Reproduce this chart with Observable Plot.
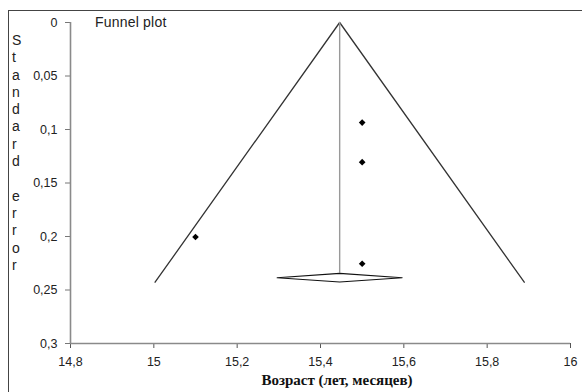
<!DOCTYPE html>
<html><head><meta charset="utf-8">
<script src="https://cdn.jsdelivr.net/npm/d3@7"></script>
<script src="https://cdn.jsdelivr.net/npm/@observablehq/plot@0.6"></script>
<style>
html,body{margin:0;padding:0;background:#fff;}
#wrap{position:relative;width:582px;height:392px;overflow:hidden;font-family:"Liberation Sans",Arial,sans-serif;}
#frame{position:absolute;left:8px;top:10px;right:-5px;bottom:-5px;border-left:1.6px solid #444;border-top:1.6px solid #444;}
#title{position:absolute;left:95px;top:14px;font-size:14px;color:#222;letter-spacing:0.2px;}
#ylab{position:absolute;left:12px;top:32px;font-size:14px;line-height:17.3px;color:#222;text-align:left;}
#xlab{position:absolute;left:0;width:674px;top:372px;text-align:center;font-family:"Liberation Serif","Times New Roman",serif;font-weight:bold;font-size:15px;color:#111;}
</style></head>
<body><div id="wrap"><div id="frame"></div><div id="chart"></div>
<div id="title">Funnel plot</div>
<div id="ylab"></div>
<div id="xlab">Возраст (лет, месяцев)</div>
</div>
<script>
// data
const studyAge = [15.1, 15.5, 15.5, 15.5];
const studySE = [0.2005, 0.0935, 0.1305, 0.2255];
const funnelX = [15.003, 15.446, 15.889];
const funnelSE = [0.2427, 0, 0.2427];
const pooled = 15.446;
const pooledLineSE = [0, 0.2343];
const diamondX = [15.296, 15.446, 15.596, 15.446, 15.296];
const diamondSE = [0.2386, 0.2345, 0.2386, 0.2425, 0.2386];
const xTicks = [14.8, 15, 15.2, 15.4, 15.6, 15.8, 16];
const yTicks = [0, 0.05, 0.1, 0.15, 0.2, 0.25, 0.3];
const yTitle = "Standard error";
const fmt = d => String(d).replace(".", ",");

document.getElementById("ylab").innerHTML = yTitle.split("").map(c => c === " " ? "&nbsp;" : c).join("<br>");

const pts = studyAge.map((x, i) => ({x, y: studySE[i]}));
const fun = funnelX.map((x, i) => ({x, y: funnelSE[i]}));
const dia = diamondX.map((x, i) => ({x, y: diamondSE[i]}));

const chart = Plot.plot({
  width: 582, height: 392,
  marginLeft: 70, marginRight: 12, marginTop: 22, marginBottom: 49,
  style: {background: "transparent", fontFamily: "Liberation Sans, Arial, sans-serif"},
  x: {domain: [14.8, 16]},
  y: {domain: [0, 0.3], reverse: true},
  marks: [
    Plot.axisX({ticks: xTicks, tickFormat: fmt, tickSize: 5, tickPadding: 9, stroke: "#555", fill: "#222", fontSize: 12.5, label: null}),
    Plot.axisY({ticks: yTicks, tickFormat: fmt, tickSize: 5, tickPadding: 8, stroke: "#777", fill: "#222", fontSize: 12.5, label: null}),
    Plot.ruleX([14.8], {stroke: "#8a8a8a", strokeWidth: 1.6}),
    Plot.ruleY([0.3], {stroke: "#8a8a8a", strokeWidth: 1.6}),
    Plot.line(fun, {x: "x", y: "y", stroke: "#333", strokeWidth: 1.3}),
    Plot.ruleX([pooled], {y1: pooledLineSE[0], y2: pooledLineSE[1], stroke: "#999", strokeWidth: 1.4}),
    Plot.line(dia, {x: "x", y: "y", stroke: "#111", fill: "white", strokeWidth: 1.1}),
    Plot.dot(pts, {x: "x", y: "y", symbol: "diamond2", r: 3, fill: "#000", stroke: "none"})
  ]
});
document.getElementById("chart").appendChild(chart);
</script></body></html>
